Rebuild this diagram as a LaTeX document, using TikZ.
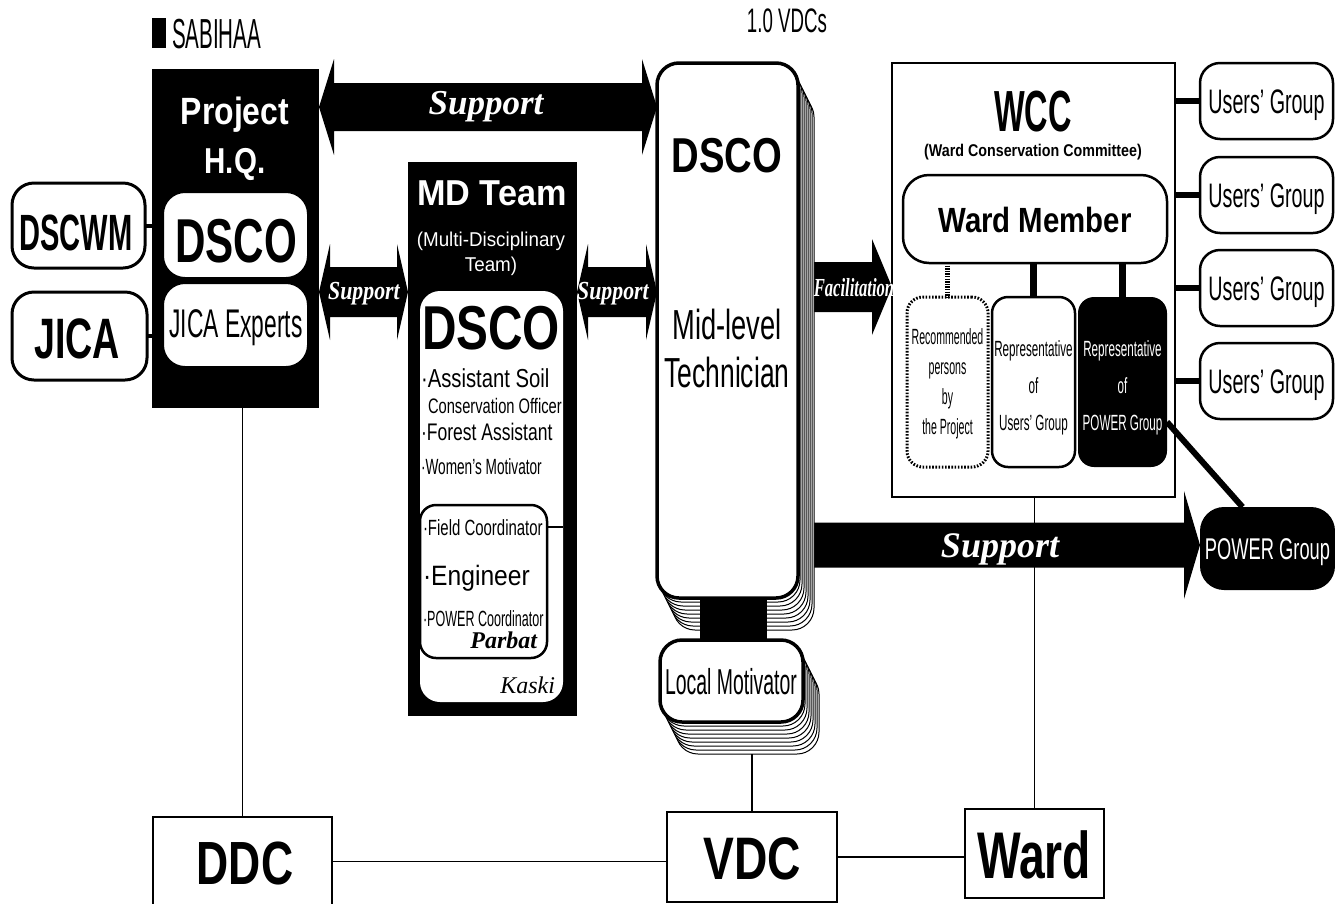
\documentclass[tikz,border=0pt]{standalone}
\usepackage{fontspec}
\setmainfont{Liberation Sans}
\newfontfamily\ser{Liberation Serif}
\usetikzlibrary{calc}
\newcommand\tx[3]{{\fontsize{#1}{#1}\selectfont\scalebox{#2}[1]{#3}}}
\newcommand\mtx[4]{{\fontsize{#1}{#2}\selectfont\scalebox{#3}[1]{\begin{tabular}{@{}c@{}}#4\end{tabular}}}}
\newcommand\dblarrow[5]{\fill (#1) -- ($(#1)+(#5,-#4)$) -- ($(#1)+(#5,-#3)$) -- ($(#2)+(-#5,-#3)$) -- ($(#2)+(-#5,-#4)$) -- (#2) -- ($(#2)+(-#5,#4)$) -- ($(#2)+(-#5,#3)$) -- ($(#1)+(#5,#3)$) -- ($(#1)+(#5,#4)$) -- cycle;}
\newcommand\sglarrow[5]{\fill ($(#1)+(0,-#3)$) -- ($(#2)+(-#5,-#3)$) -- ($(#2)+(-#5,-#4)$) -- (#2) -- ($(#2)+(-#5,#4)$) -- ($(#2)+(-#5,#3)$) -- ($(#1)+(0,#3)$) -- cycle;}
\tikzset{
  bx/.style={draw, line width=3pt, rounded corners=16pt, fill=white, inner sep=0pt, outer sep=0pt},
  blk/.style={fill=black, inner sep=0pt, outer sep=0pt},
  sq/.style={draw, line width=1.3pt, fill=white, inner sep=0pt, outer sep=0pt},
  copybox/.style={draw, line width=1pt, rounded corners=16pt, fill=white, inner sep=0pt, outer sep=0pt},
  txt/.style={inner sep=0pt, outer sep=0pt},
  wtxt/.style={txt, text=white},
  thinline/.style={line width=1.2pt},
  link/.style={line width=6pt},
}
\begin{document}
\begin{tikzpicture}[x=1pt,y=-1pt]
\path[use as bounding box, fill=white] (0,0) rectangle (1335,903);
\clip (0,0) rectangle (1335,903);

% ---------- bottom boxes ----------
\node[sq, minimum width=179pt, minimum height=89pt] (ddc) at (242.5,861.5) {};
\node[sq, minimum width=170pt, minimum height=90pt] (vdc) at (752,857) {};
\node[sq, minimum width=139pt, minimum height=89pt] (ward) at (1034.5,853.5) {};

% ---------- Project HQ ----------
\node[blk, minimum width=167pt, minimum height=339pt] (hq) at (235.5,238.5) {};
\node[bx, line width=2pt, rounded corners=22pt, minimum width=145pt, minimum height=86pt] (hqd) at (235.5,235) {};
\node[bx, line width=2pt, rounded corners=22pt, minimum width=145pt, minimum height=84pt] (jexp) at (235.5,325) {};
\node[bx, rounded corners=22pt, minimum width=133pt, minimum height=85pt] (dscwm) at (78.5,225.5) {};
\node[bx, rounded corners=22pt, minimum width=135pt, minimum height=88pt] (jica) at (79.5,336) {};

% ---------- MD Team ----------
\node[blk, minimum width=169pt, minimum height=554pt] (md) at (492.5,439) {};
\node[fill=white, rounded corners=20pt, inner sep=0pt, outer sep=0pt, minimum width=143pt, minimum height=411pt] (kaski) at (491.5,496.5) {};
\node[draw, line width=2.5pt, fill=white, rounded corners=16pt, inner sep=0pt, outer sep=0pt, minimum width=127pt, minimum height=153pt] (parbat) at (483.5,581.5) {};
\coordinate (pbr) at (547,527);

% ---------- WCC ----------
\node[sq, line width=1.2pt, minimum width=283pt, minimum height=434pt] (wcc) at (1033.5,280) {};

% ---------- thin connectors ----------
\draw[thinline] (hq.south -| ddc.north) -- (ddc.north);
\draw[thinline] (ddc.east) -- (ddc.east -| vdc.west);
\draw[thinline] (vdc.east) -- (vdc.east -| ward.west);
\draw[thinline] (wcc.south -| ward.north) -- (ward.north);
\draw[line width=4pt] (dscwm.east) -- (dscwm.east -| hqd.west);
\draw[line width=4pt] (jica.east) -- (jica.east -| jexp.west);
\draw[line width=2pt] (pbr) -- (pbr -| kaski.east);

% ---------- anchor-only nodes ----------
\path (727.5,330.5) node[inner sep=0pt, outer sep=0pt, minimum width=141pt, minimum height=535pt] (dscof) {};
\node[inner sep=0pt, outer sep=0pt, minimum width=135pt, minimum height=83pt] (pg) at (1267.5,548.5) {};

% ---------- fat arrows ----------
\coordinate (a1) at (hq.east |- 0,107);
\coordinate (a2) at (dscof.west |- 0,107);
\dblarrow{a1}{a2}{24}{48}{15}
\coordinate (b1) at (hq.east |- 0,292);
\coordinate (b2) at (md.west |- 0,292);
\dblarrow{b1}{b2}{25}{48}{11}
\coordinate (c1) at (md.east |- 0,292);
\coordinate (c2) at (dscof.west |- 0,292);
\dblarrow{c1}{c2}{25}{48}{11}
\coordinate (f1) at (dscof.east |- 0,287);
\coordinate (f2) at (wcc.west |- 0,287);
\sglarrow{f1}{f2}{25}{48}{20}
\coordinate (s1) at (dscof.east |- 0,545);
\coordinate (s2) at (pg.west |- 0,545);
\sglarrow{s1}{s2}{22.5}{54}{16}

% ---------- stack copies ----------
\foreach \i in {8,...,1}{
  \node[copybox, rounded corners=22pt, minimum width=141pt, minimum height=535pt] (dsc\i) at ($(727.5,330.5)+(2*\i,4*\i)$) {};
  \node[copybox, rounded corners=22pt, minimum width=143pt, minimum height=82pt] (lmc\i) at ($(731.5,681)+(2*\i,4*\i)$) {};
}
\draw[thinline] (lmc8.south -| vdc.north) -- (vdc.north);
\node[blk, minimum width=67pt, minimum height=48pt] (bar) at (733.5,619) {};
\node[bx, line width=3.5pt, rounded corners=22pt, minimum width=141pt, minimum height=535pt] (dscofront) at (727.5,330.5) {};
\node[bx, line width=3.5pt, rounded corners=22pt, minimum width=143pt, minimum height=82pt] (lmf) at (731.5,681) {};

% ---------- WCC internals ----------
\node[bx, line width=2.5pt, rounded corners=26pt, minimum width=264pt, minimum height=88pt] (wm) at (1035,219) {};
\node[draw, line width=3pt, dash pattern=on 1.6pt off 1.6pt, fill=white, rounded corners=16pt, inner sep=0pt, outer sep=0pt, minimum width=81pt, minimum height=170pt] (rec) at (947.5,382) {};
\node[bx, line width=2.5pt, rounded corners=16pt, minimum width=83pt, minimum height=170pt] (rus) at (1033.5,382) {};
\node[blk, rounded corners=16pt, minimum width=89pt, minimum height=170pt] (rp) at (1122.5,382) {};
\draw[line width=7pt] (rus.north |- wm.south) -- (rus.north);
\draw[line width=7pt] (rp.north |- wm.south) -- (rp.north);
\draw[line width=5pt, dash pattern=on 1.3pt off 1.3pt] (rec.north |- wm.south) -- (rec.north);

% ---------- Users' groups ----------
\foreach \k/\yy in {1/101,2/195,3/288,4/381}{
  \node[bx, line width=2.5pt, rounded corners=20pt, minimum width=133pt, minimum height=76pt] (ug\k) at (1266.5,\yy) {};
  \draw[link] (ug\k.west -| wcc.east) -- (ug\k.west);
  \node[txt, anchor=base] (ugt\k) at (1266.5,\yy+12) {\tx{34}{0.58}{Users' Group}};
}

% ---------- POWER group ----------
\draw[line width=6pt] ($(rp.east)+(0,40)$) -- ($(pg.north)+(-25,0)$);
\node[blk, rounded corners=24pt, minimum width=135pt, minimum height=83pt] (pgb) at (1267.5,548.5) {};

% ---------- texts ----------
\node[txt, anchor=base west] (sab) at (152,48) {\rule{14pt}{30pt}\hspace{6pt}\tx{42}{0.49}{SABIHAA}};
\node[wtxt, anchor=base] (tproj) at (235,124) {\bfseries\tx{38}{0.84}{Project}};
\node[wtxt, anchor=base] (thq) at (235,173) {\bfseries\tx{36}{0.82}{H.Q.}};
\node[txt, anchor=base] (thqd) at (236,262) {\bfseries\tx{62}{0.68}{DSCO}};
\node[txt, anchor=base] (tjexp) at (236,337) {\tx{40}{0.57}{JICA Experts}};
\node[txt, anchor=base] (tdscwm) at (76,250) {\bfseries\tx{51}{0.57}{DSCWM}};
\node[txt, anchor=base] (tjica) at (77,358) {\bfseries\tx{57}{0.66}{JICA}};

\node[wtxt, anchor=base] (tmd) at (492,205) {\bfseries\tx{36}{0.95}{MD Team}};
\node[wtxt] (tmdsub) at (491,254) {\mtx{20}{25}{0.94}{(Multi-Disciplinary\\Team)}};
\node[txt, anchor=base] (tmdd) at (491,349) {\bfseries\tx{62}{0.77}{DSCO}};
\node[txt, anchor=base west] (m1) at (421,387) {\tx{26}{0.78}{·Assistant Soil}};
\node[txt, anchor=base west] (m2) at (428,413) {\tx{21}{0.7}{Conservation Officer}};
\node[txt, anchor=base west] (m3) at (421,440) {\tx{24}{0.73}{·Forest Assistant}};
\node[txt, anchor=base west] (m4) at (421,474) {\tx{22}{0.62}{·Women's Motivator}};
\node[txt, anchor=base west] (m5) at (423,535) {\tx{22}{0.68}{·Field Coordinator}};
\node[txt, anchor=base west] (m6) at (423,585) {\tx{28}{0.88}{·Engineer}};
\node[txt, anchor=base west] (m7) at (423,626) {\tx{22}{0.57}{·POWER Coordinator}};
\node[txt, anchor=base east] (tparbat) at (537,648) {\ser\itshape\bfseries\tx{24}{1}{Parbat}};
\node[txt, anchor=base east] (tkaski) at (555,693) {\ser\itshape\tx{24}{1}{Kaski}};

\node[txt, anchor=base] (tvdcs) at (787,32) {\tx{34}{0.55}{1.0 VDCs}};
\node[txt, anchor=base] (tsd) at (727,172) {\bfseries\tx{49}{0.78}{DSCO}};
\node[txt, anchor=base] (tml) at (727,339) {\tx{42}{0.65}{Mid-level}};
\node[txt, anchor=base] (ttech) at (727,387) {\tx{42}{0.63}{Technician}};
\node[txt, anchor=base] (tlm) at (731,694) {\tx{36}{0.54}{Local Motivator}};

\node[wtxt, anchor=base] (sup1) at (486,114) {\ser\itshape\bfseries\tx{35}{1}{Support}};
\node[wtxt, anchor=base] (sup2) at (364,299) {\ser\itshape\bfseries\tx{26}{0.84}{Support}};
\node[wtxt, anchor=base] (sup3) at (613,299) {\ser\itshape\bfseries\tx{26}{0.84}{Support}};
\node[wtxt, anchor=base] (fac) at (854,296) {\ser\itshape\bfseries\tx{26}{0.64}{Facilitation}};
\node[wtxt, anchor=base] (sup4) at (1000,557) {\ser\itshape\bfseries\tx{36}{1}{Support}};

\node[txt, anchor=base] (twcc) at (1033,131) {\bfseries\tx{58}{0.56}{WCC}};
\node[txt, anchor=base] (twccs) at (1033,156) {\bfseries\tx{17}{0.84}{(Ward Conservation Committee)}};
\node[txt, anchor=base] (twm) at (1035,232) {\bfseries\tx{35}{0.84}{Ward Member}};
\node[txt] (trec) at (947.5,383) {\mtx{22}{30}{0.48}{Recommended\\persons\\by\\the Project}};
\node[txt] (trus) at (1033.5,386) {\mtx{22}{37}{0.53}{Representative\\of\\Users' Group}};
\node[wtxt] (trp) at (1122.5,386) {\mtx{22}{37}{0.53}{Representative\\of\\POWER Group}};
\node[wtxt, anchor=base] (tpg) at (1267.5,559) {\tx{30}{0.61}{POWER Group}};

\node[txt, anchor=base] (tddc) at (245,884) {\bfseries\tx{61}{0.73}{DDC}};
\node[txt, anchor=base] (tvdc) at (752,879) {\bfseries\tx{60}{0.77}{VDC}};
\node[txt, anchor=base] (tward) at (1034,878) {\bfseries\tx{66}{0.7}{Ward}};
\end{tikzpicture}
\end{document}
